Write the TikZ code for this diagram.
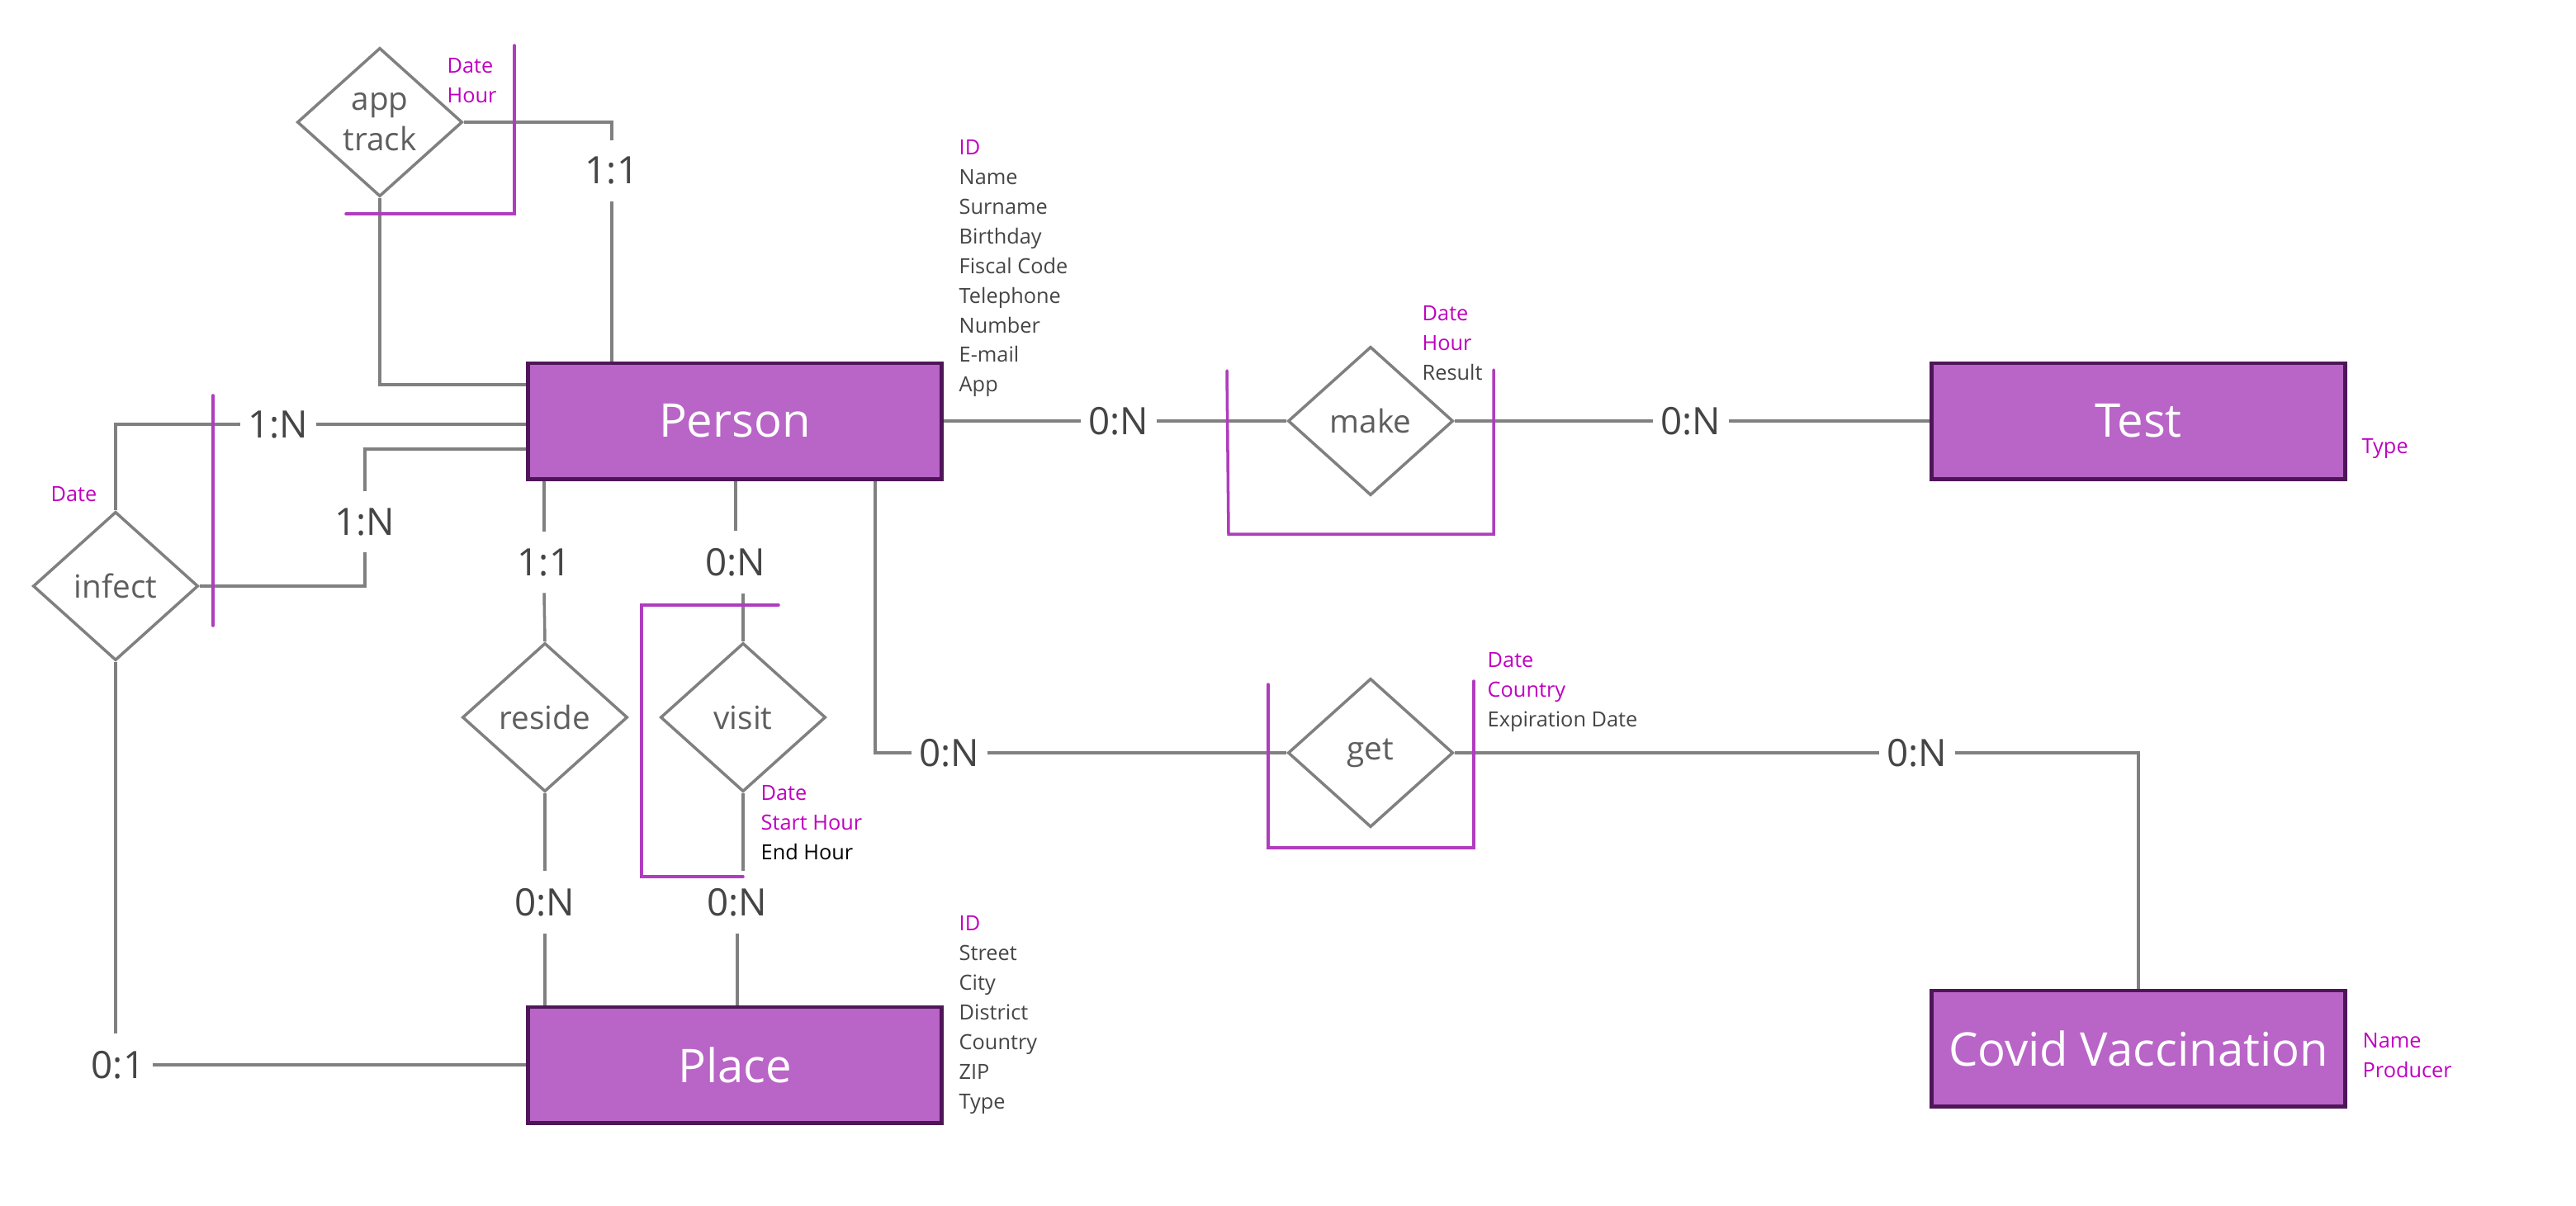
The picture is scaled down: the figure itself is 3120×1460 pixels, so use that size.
\documentclass[tikz,border=0pt]{standalone}
\usepackage{fontspec}
\setmainfont{Open Sans}
\usetikzlibrary{positioning,shapes.geometric}
\definecolor{entfill}{HTML}{B964C7}
\definecolor{entline}{HTML}{4E1657}
\definecolor{linkc}{HTML}{808080}
\definecolor{cardc}{HTML}{454545}
\definecolor{relc}{HTML}{5E5E5E}
\definecolor{keyc}{HTML}{C000C0}
\definecolor{brack}{HTML}{B03CBE}

\tikzset{
  entity/.style={draw=entline,line width=1.4pt,fill=entfill,minimum width=5cm,
    minimum height=1.4cm,text=white,font=\fontsize{16}{19}\selectfont},
  rel/.style={draw=linkc,line width=1pt,diamond,aspect=1.1,inner sep=0pt,
    minimum width=2cm,minimum height=1.8cm,text=relc,align=center,
    font=\fontsize{11}{14}\selectfont},
  card/.style={text=cardc,inner xsep=0.09cm,inner ysep=0.2cm,
    font=\fontsize{13}{15}\selectfont},
  attr/.style={anchor=north west,inner sep=0pt,align=left,text=cardc,
    font=\fontsize{7.2}{10.2}\selectfont},
  link/.style={draw=linkc,line width=1pt},
  keyline/.style={draw=brack,line width=1pt,line cap=round}
}

\begin{document}
\begin{tikzpicture}[x=0.01cm,y=-0.01cm]
  \useasboundingbox[fill=white] (0,0) rectangle (3120,1460);

  % entities
  \node[entity] (person) at (890,510) {Person};
  \node[entity] (test) at (2590,510) {Test};
  \node[entity] (place) at (890,1290) {Place};
  \node[entity] (vacc) at (2590,1270) {Covid Vaccination};

  % relationships
  \node[rel] (apptrack) at (460,148) {app\\track};
  \node[rel] (infect) at (140,710) {infect};
  \node[rel] (reside) at (660,869) {reside};
  \node[rel] (visit) at (900,869) {visit};
  \node[rel] (make) at (1660,510) {make};
  \node[rel] (get) at (1660,912) {get};

  % cardinalities
  \node[card] (c11a) at (741,207) {1:1};
  \node[card] (c1na) at (337,514) {1:N};
  \node[card] (c1nb) at (442,632) {1:N};
  \node[card] (c01) at (143,1290) {0:1};
  \node[card] (c11b) at (659,681) {1:1};
  \node[card] (c0na) at (660,1093) {0:N};
  \node[card] (c0nb) at (891,681) {0:N};
  \node[card] (c0nc) at (893,1093) {0:N};
  \node[card] (c0nd) at (1355,510) {0:N};
  \node[card] (c0ne) at (2048,510) {0:N};
  \node[card] (c0nf) at (1150,912) {0:N};
  \node[card] (c0ng) at (2322,912) {0:N};

  % connectors
  \draw[link] (apptrack.east) -| (c11a.north);
  \draw[link] (c11a.south) -- (c11a.south |- person.north);
  \draw[link] (apptrack.south) |- ([yshift=0.44cm]person.west);
  \draw[link] (infect.north) |- (c1na.west);
  \draw[link] (c1na.east) -- (c1na.east -| person.west);
  \draw[link] (infect.east) -| (c1nb.south);
  \draw[link] (c1nb.north) |- ([yshift=-0.34cm]person.west);
  \draw[link] (infect.south) -- (infect.south |- c01.north);
  \draw[link] (c01.east) -- (c01.east -| place.west);
  \draw[link] (c11b.north |- person.south) -- (c11b.north);
  \draw[link] (c11b.south) -- (reside.north);
  \draw[link] (reside.south) -- (c0na.north);
  \draw[link] (c0na.south) -- (c0na.south |- place.north);
  \draw[link] (c0nb.north |- person.south) -- (c0nb.north);
  \draw[link] (visit.north |- c0nb.south) -- (visit.north);
  \draw[link] (visit.south) -- (visit.south |- c0nc.north);
  \draw[link] (c0nc.south) -- (c0nc.south |- place.north);
  \draw[link] (person.east) -- (c0nd.west);
  \draw[link] (c0nd.east) -- (make.west);
  \draw[link] (make.east) -- (c0ne.west);
  \draw[link] (c0ne.east) -- (test.west);
  \draw[link] ([xshift=1.7cm]person.south) |- (c0nf.west);
  \draw[link] (c0nf.east) -- (get.west);
  \draw[link] (get.east) -- (c0ng.west);
  \draw[link] (c0ng.east) -| (vacc.north);

  % identifier brackets
  \draw[keyline] (623,55) -- (623,259) -- (419,259);
  \draw[keyline] (258,479) -- (258,758);
  \draw[keyline] (943,733) -- (777,733) -- (777,1062) -- (900,1062);
  \draw[keyline] (1486,449) -- (1488,647) -- (1809,647) -- (1809,448);
  \draw[keyline] (1536,829) -- (1536,1027) -- (1785,1027) -- (1785,825);

  % attributes
  \node[attr] (pattr) at (1161,169) {\textcolor{keyc}{ID}\\Name\\Surname\\Birthday\\Fiscal Code\\Telephone\\Number\\E-mail\\App};
  \node[attr] (plattr) at (1161,1109) {\textcolor{keyc}{ID}\\Street\\City\\District\\Country\\ZIP\\Type};
  \node[attr] (tattr) at (2860,531) {\textcolor{keyc}{Type}};
  \node[attr] (vattr) at (2861,1251) {\textcolor{keyc}{Name}\\\textcolor{keyc}{Producer}};
  \node[attr] (aattr) at (541,70) {\textcolor{keyc}{Date}\\\textcolor{keyc}{Hour}};
  \node[attr] (iattr) at (61,589) {\textcolor{keyc}{Date}};
  \node[attr] (viattr) at (921,951) {\textcolor{keyc}{Date}\\\textcolor{keyc}{Start Hour}\\\textcolor{black}{End Hour}};
  \node[attr] (mattr) at (1722,370) {\textcolor{keyc}{Date}\\\textcolor{keyc}{Hour}\\Result};
  \node[attr] (gattr) at (1801,790) {\textcolor{keyc}{Date}\\\textcolor{keyc}{Country}\\Expiration Date};
\end{tikzpicture}
\end{document}
